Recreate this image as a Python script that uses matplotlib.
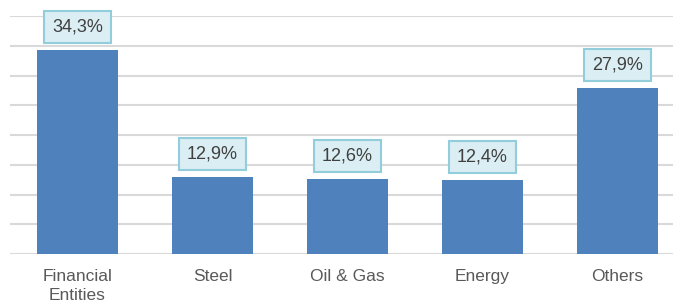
import matplotlib.pyplot as plt

plt.rcParams['font.family'] = ['Liberation Sans', 'DejaVu Sans']

sectors = ["Financial\nEntities", "Steel", "Oil & Gas", "Energy", "Others"]
shares = [34.3, 12.9, 12.6, 12.4, 27.9]
labels = ["34,3%", "12,9%", "12,6%", "12,4%", "27,9%"]

fig = plt.figure(figsize=(6.73, 3.04), dpi=100)
ax = fig.add_axes([10 / 673, 1 - 254 / 304, 675 / 673, 238 / 304])

x = range(len(sectors))
ax.bar(x, shares, width=0.6, color="#4F81BD", zorder=3)
for i, v in enumerate(shares):
    ax.annotate(labels[i], (i, v), xytext=(0, 10.5), textcoords="offset points",
                ha="center", va="bottom", fontsize=13, color="#404040",
                bbox=dict(boxstyle="square,pad=0.42", fc="#DAEEF3", ec="#92CDDC", lw=1.5))

ax.set_xlim(-0.5, 4.5)
ax.set_ylim(0, 40)
ax.set_yticks(range(0, 41, 5))
ax.yaxis.grid(True, color="#D9D9D9", lw=1.5, zorder=0)
ax.tick_params(axis="y", left=False, labelleft=False)
ax.tick_params(axis="x", length=0, pad=11, labelsize=12.5, labelcolor="#595959")
ax.set_xticks(list(x))
ax.set_xticklabels(sectors, linespacing=1.35)
for s in ax.spines.values():
    s.set_visible(False)

fig.savefig("out.png", dpi=100)
